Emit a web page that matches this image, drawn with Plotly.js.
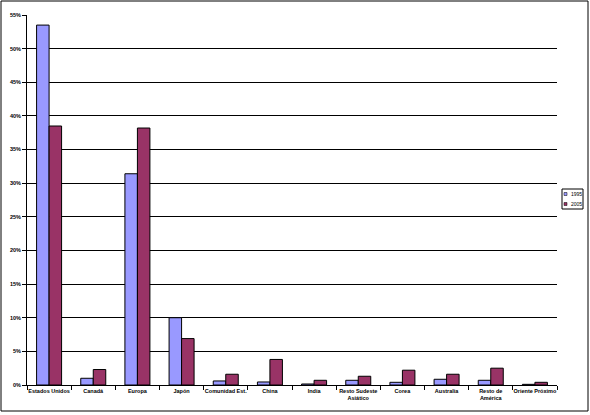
<!DOCTYPE html>
<html>
<head>
<meta charset="utf-8">
<script src="https://cdn.plot.ly/plotly-3.0.1.min.js"></script>
<style>
html,body{margin:0;padding:0;background:#fff;}
#chart{width:590px;height:415px;}
</style>
</head>
<body>
<div id="chart"></div>
<script>
var categories = ["Estados Unidos", "Canadá", "Europa", "Japón", "Comunidad Est.", "China", "India", "Resto Sudeste<br>Asiático", "Corea", "Australia", "Resto de<br>América", "Oriente Próximo"];
var values1995 = [53.5, 1.0, 31.4, 10.0, 0.6, 0.45, 0.15, 0.7, 0.4, 0.85, 0.7, 0.1];
var values2005 = [38.5, 2.3, 38.2, 6.9, 1.6, 3.8, 0.7, 1.3, 2.2, 1.6, 2.5, 0.4];
var seriesNames = ["1995", "2005"];
var yTickVals = [0, 5, 10, 15, 20, 25, 30, 35, 40, 45, 50, 55];
var yTickText = ["0%", "5%", "10%", "15%", "20%", "25%", "30%", "35%", "40%", "45%", "50%", "55%"];

var colors = ["#9999FF", "#993366"];

var L = 27, R = 557, T = 15, B = 385;
function px(x){ return (x - L) / (R - L); }
function py(y){ return (B - y) / (B - T); }

var traces = [
  {type: "bar", x: categories, y: values1995, name: seriesNames[0],
   marker: {color: colors[0], line: {color: "#000", width: 1}}},
  {type: "bar", x: categories, y: values2005, name: seriesNames[1],
   marker: {color: colors[1], line: {color: "#000", width: 1}}}
];

var font = {family: "Liberation Sans, Arial, sans-serif", size: 5.5, color: "#000", weight: 700};

var shapes = [
  {type: "rect", xref: "paper", yref: "paper", x0: px(1), x1: px(588), y0: py(1), y1: py(411),
   line: {color: "#000", width: 1}, fillcolor: "rgba(0,0,0,0)"},
  {type: "rect", xref: "paper", yref: "paper", x0: px(562), x1: px(583), y0: py(189), y1: py(209),
   line: {color: "#000", width: 1}, fillcolor: "#fff"},
  {type: "rect", xref: "paper", yref: "paper", x0: px(564), x1: px(567), y0: py(192.5), y1: py(195.5),
   line: {color: "#000", width: 0.5}, fillcolor: colors[0]},
  {type: "rect", xref: "paper", yref: "paper", x0: px(564), x1: px(567), y0: py(202.5), y1: py(205.5),
   line: {color: "#000", width: 0.5}, fillcolor: colors[1]}
];

var annotations = [
  {xref: "paper", yref: "paper", x: px(569), y: py(194), xanchor: "left", yanchor: "middle",
   text: seriesNames[0], showarrow: false, font: {family: font.family, size: 5, color: "#000"}},
  {xref: "paper", yref: "paper", x: px(569), y: py(204), xanchor: "left", yanchor: "middle",
   text: seriesNames[1], showarrow: false, font: {family: font.family, size: 5, color: "#000"}}
];

var layout = {
  width: 590, height: 415,
  margin: {l: L, r: 590 - R, t: T, b: 415 - B, pad: 0},
  paper_bgcolor: "#fff", plot_bgcolor: "#fff",
  barmode: "group", bargap: 0.434, bargroupgap: 0,
  showlegend: false,
  xaxis: {type: "category", tickson: "boundaries", ticks: "outside", ticklen: 4, tickcolor: "#000",
          showline: true, linecolor: "#000", linewidth: 1, showgrid: false, tickfont: font,
          tickangle: 0, automargin: false},
  yaxis: {range: [0, 55], tickvals: yTickVals, ticktext: yTickText, ticks: "outside", ticklen: 4,
          tickcolor: "#000", showline: true, linecolor: "#000", linewidth: 1,
          showgrid: true, gridcolor: "#000", gridwidth: 1, zeroline: false, tickfont: font,
          automargin: false},
  shapes: shapes,
  annotations: annotations
};

Plotly.newPlot("chart", traces, layout, {displayModeBar: false, staticPlot: true});
</script>
</body>
</html>
